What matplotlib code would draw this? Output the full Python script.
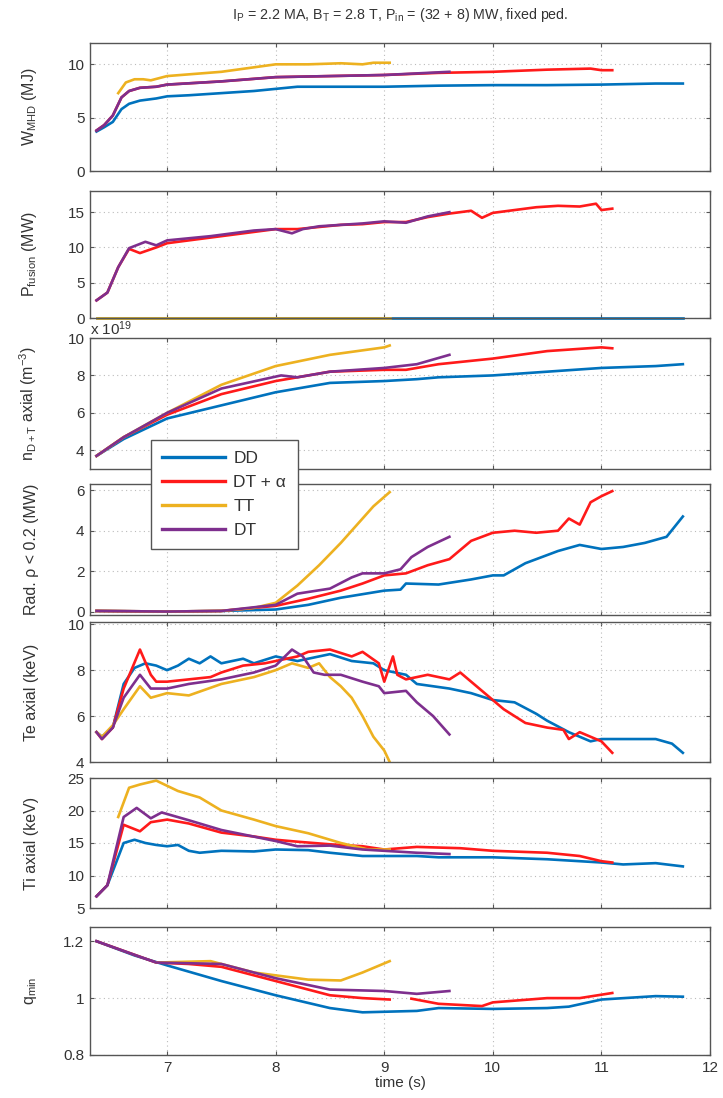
import numpy as np
import matplotlib
matplotlib.use("Agg")
import matplotlib.pyplot as plt

plt.rcParams['font.family'] = ['Liberation Sans', 'DejaVu Sans']
plt.rcParams['mathtext.fontset'] = 'custom'
plt.rcParams['mathtext.rm'] = 'Liberation Sans'
plt.rcParams['mathtext.it'] = 'Liberation Sans'

series_names = ["DD", "DT + α", "TT", "DT"]
colors = ["#0072BD", "#FF1A1A", "#EDB120", "#7E2F8E"]

# ---------------- W_MHD (MJ) ----------------
w_dd_t = [6.35, 6.42, 6.5, 6.58, 6.65, 6.75, 6.9, 7.0, 7.2, 7.5, 7.8, 8.0, 8.2, 8.5, 9.0, 9.5, 10.0, 10.5, 11.0, 11.5, 11.75]
w_dd = [3.7, 4.1, 4.6, 5.8, 6.3, 6.6, 6.8, 7.0, 7.1, 7.3, 7.5, 7.7, 7.9, 7.9, 7.9, 8.0, 8.05, 8.05, 8.1, 8.2, 8.2]
w_dta_t = [6.35, 6.42, 6.5, 6.58, 6.65, 6.75, 6.9, 7.0, 7.5, 8.0, 8.5, 9.0, 9.5, 10.0, 10.5, 10.9, 11.0, 11.1]
w_dta = [3.8, 4.3, 5.2, 6.9, 7.5, 7.8, 7.9, 8.1, 8.4, 8.8, 8.9, 9.0, 9.2, 9.3, 9.5, 9.6, 9.45, 9.45]
w_tt_t = [6.55, 6.62, 6.7, 6.78, 6.85, 7.0, 7.5, 8.0, 8.3, 8.6, 8.8, 8.9, 9.05]
w_tt = [7.3, 8.3, 8.6, 8.6, 8.5, 8.9, 9.3, 10.0, 10.0, 10.1, 10.0, 10.15, 10.15]
w_dt_t = [6.35, 6.42, 6.5, 6.58, 6.65, 6.75, 6.9, 7.0, 7.5, 8.0, 8.5, 9.0, 9.6]
w_dt = [3.8, 4.3, 5.2, 6.9, 7.5, 7.8, 7.9, 8.1, 8.4, 8.8, 8.9, 9.0, 9.3]

# ---------------- P_fusion (MW) ----------------
p_dd_t = [6.35, 11.75]
p_dd = [0.0, 0.0]
p_tt_t = [6.35, 9.05]
p_tt = [0.0, 0.0]
p_dta_t = [6.35, 6.45, 6.55, 6.65, 6.75, 6.9, 7.0, 7.2, 7.4, 7.6, 7.8, 8.0, 8.2, 8.4, 8.6, 8.8, 9.0, 9.2, 9.4, 9.6, 9.8, 9.9, 10.0, 10.2, 10.4, 10.6, 10.8, 10.95, 11.0, 11.1]
p_dta = [2.5, 3.6, 7.2, 9.8, 9.2, 10.0, 10.6, 11.0, 11.4, 11.8, 12.2, 12.6, 12.6, 12.9, 13.2, 13.3, 13.6, 13.6, 14.3, 14.8, 15.2, 14.2, 14.9, 15.3, 15.7, 15.9, 15.8, 16.2, 15.3, 15.5]
p_dt_t = [6.35, 6.45, 6.55, 6.65, 6.8, 6.9, 7.0, 7.2, 7.4, 7.6, 7.8, 8.0, 8.15, 8.25, 8.4, 8.6, 8.8, 9.0, 9.2, 9.4, 9.6]
p_dt = [2.5, 3.6, 7.2, 9.9, 10.8, 10.3, 11.0, 11.3, 11.6, 12.0, 12.4, 12.6, 12.0, 12.6, 13.0, 13.2, 13.4, 13.7, 13.5, 14.4, 15.0]

# ---------------- n_D+T axial (1e19 m^-3) ----------------
n_dd_t = [6.35, 6.6, 7.0, 7.5, 8.0, 8.5, 9.0, 9.3, 9.5, 10.0, 10.5, 11.0, 11.5, 11.75]
n_dd = [3.7, 4.6, 5.7, 6.4, 7.1, 7.6, 7.7, 7.8, 7.9, 8.0, 8.2, 8.4, 8.5, 8.6]
n_dta_t = [6.35, 6.6, 7.0, 7.5, 8.0, 8.5, 9.0, 9.2, 9.5, 10.0, 10.5, 11.0, 11.1]
n_dta = [3.7, 4.7, 5.9, 7.0, 7.7, 8.2, 8.3, 8.3, 8.6, 8.9, 9.3, 9.5, 9.45]
n_tt_t = [6.35, 6.6, 7.0, 7.5, 8.0, 8.5, 9.0, 9.05]
n_tt = [3.7, 4.7, 6.0, 7.5, 8.5, 9.1, 9.5, 9.6]
n_dt_t = [6.35, 6.6, 7.0, 7.5, 8.05, 8.2, 8.5, 9.0, 9.3, 9.6]
n_dt = [3.7, 4.7, 6.0, 7.3, 8.0, 7.9, 8.2, 8.4, 8.6, 9.1]

# ---------------- Rad. rho < 0.2 (MW) ----------------
r_dd_t = [6.35, 7.0, 7.5, 8.0, 8.3, 8.6, 9.0, 9.15, 9.2, 9.5, 9.8, 10.0, 10.1, 10.3, 10.6, 10.8, 11.0, 11.2, 11.4, 11.6, 11.75]
r_dd = [0.05, 0.02, 0.05, 0.12, 0.35, 0.7, 1.05, 1.1, 1.4, 1.35, 1.6, 1.8, 1.8, 2.4, 3.0, 3.3, 3.1, 3.2, 3.4, 3.7, 4.7]
r_dta_t = [6.35, 7.0, 7.5, 8.0, 8.3, 8.6, 8.8, 9.0, 9.2, 9.4, 9.6, 9.8, 10.0, 10.2, 10.4, 10.6, 10.7, 10.8, 10.9, 11.0, 11.1]
r_dta = [0.05, 0.02, 0.05, 0.3, 0.65, 1.05, 1.4, 1.8, 1.9, 2.3, 2.6, 3.5, 3.9, 4.0, 3.9, 4.0, 4.6, 4.3, 5.4, 5.7, 5.95]
r_tt_t = [6.35, 7.0, 7.5, 7.8, 8.0, 8.2, 8.4, 8.6, 8.75, 8.9, 9.05]
r_tt = [0.05, 0.02, 0.05, 0.2, 0.45, 1.3, 2.3, 3.4, 4.3, 5.2, 5.9]
r_dt_t = [6.35, 7.0, 7.5, 8.0, 8.2, 8.5, 8.7, 8.8, 9.0, 9.15, 9.25, 9.4, 9.6]
r_dt = [0.05, 0.02, 0.05, 0.35, 0.9, 1.15, 1.7, 1.9, 1.9, 2.1, 2.7, 3.2, 3.7]

# ---------------- Te axial (keV) ----------------
te_dd_t = [6.35, 6.4, 6.5, 6.6, 6.7, 6.8, 6.9, 7.0, 7.1, 7.2, 7.3, 7.4, 7.5, 7.7, 7.8, 8.0, 8.2, 8.4, 8.5, 8.7, 8.9, 9.0, 9.2, 9.3, 9.6, 9.8, 10.0, 10.2, 10.4, 10.5, 10.7, 10.9, 11.0, 11.2, 11.5, 11.65, 11.75]
te_dd = [5.3, 5.1, 5.5, 7.4, 8.1, 8.3, 8.2, 8.0, 8.2, 8.5, 8.3, 8.6, 8.3, 8.5, 8.3, 8.6, 8.4, 8.6, 8.7, 8.4, 8.3, 8.0, 7.8, 7.4, 7.2, 7.0, 6.7, 6.6, 6.1, 5.8, 5.3, 4.9, 5.0, 5.0, 5.0, 4.8, 4.4]
te_dta_t = [6.35, 6.4, 6.5, 6.6, 6.75, 6.85, 6.9, 7.0, 7.2, 7.4, 7.5, 7.7, 7.9, 8.0, 8.2, 8.3, 8.5, 8.7, 8.8, 8.95, 9.0, 9.08, 9.12, 9.2, 9.4, 9.6, 9.7, 9.9, 10.1, 10.3, 10.5, 10.65, 10.7, 10.8, 11.0, 11.1]
te_dta = [5.3, 5.0, 5.5, 7.2, 8.9, 7.8, 7.5, 7.5, 7.6, 7.7, 7.9, 8.2, 8.3, 8.4, 8.6, 8.8, 8.9, 8.6, 8.8, 8.3, 7.5, 8.6, 7.8, 7.6, 7.8, 7.6, 7.9, 7.1, 6.3, 5.7, 5.5, 5.4, 5.0, 5.3, 4.9, 4.4]
te_tt_t = [6.35, 6.4, 6.5, 6.6, 6.75, 6.85, 7.0, 7.2, 7.5, 7.8, 8.0, 8.15, 8.3, 8.4, 8.5, 8.6, 8.7, 8.8, 8.9, 9.0, 9.05]
te_tt = [5.3, 5.1, 5.6, 6.3, 7.3, 6.8, 7.0, 6.9, 7.4, 7.7, 8.0, 8.3, 8.1, 8.3, 7.7, 7.3, 6.8, 6.0, 5.1, 4.5, 4.0]
te_dt_t = [6.35, 6.4, 6.5, 6.6, 6.75, 6.85, 7.0, 7.2, 7.5, 7.8, 8.0, 8.15, 8.25, 8.35, 8.45, 8.6, 8.8, 8.95, 9.0, 9.2, 9.3, 9.45, 9.6]
te_dt = [5.3, 5.0, 5.5, 6.8, 7.8, 7.2, 7.2, 7.4, 7.6, 7.9, 8.2, 8.9, 8.6, 7.9, 7.8, 7.8, 7.5, 7.3, 7.0, 7.1, 6.6, 6.0, 5.2]

# ---------------- Ti axial (keV) ----------------
ti_dd_t = [6.35, 6.45, 6.6, 6.7, 6.8, 6.9, 7.0, 7.1, 7.2, 7.3, 7.5, 7.8, 8.0, 8.3, 8.5, 8.8, 9.0, 9.3, 9.5, 10.0, 10.5, 11.0, 11.2, 11.5, 11.75]
ti_dd = [6.8, 8.5, 15.0, 15.5, 15.0, 14.7, 14.5, 14.7, 13.8, 13.5, 13.8, 13.7, 14.0, 13.9, 13.5, 13.0, 13.0, 13.0, 12.8, 12.8, 12.5, 12.0, 11.7, 11.9, 11.4]
ti_dta_t = [6.35, 6.45, 6.6, 6.75, 6.85, 7.0, 7.2, 7.5, 7.8, 8.0, 8.2, 8.5, 8.8, 9.0, 9.3, 9.5, 9.7, 10.0, 10.5, 10.8, 11.0, 11.1]
ti_dta = [6.8, 8.5, 17.8, 16.8, 18.2, 18.6, 18.0, 16.6, 16.0, 15.5, 15.2, 14.8, 14.5, 14.0, 14.4, 14.3, 14.2, 13.8, 13.5, 13.0, 12.2, 12.0]
ti_tt_t = [6.55, 6.65, 6.75, 6.9, 7.0, 7.1, 7.3, 7.5, 7.8, 8.0, 8.3, 8.6, 8.85, 9.05]
ti_tt = [19.0, 23.5, 24.0, 24.6, 23.8, 23.0, 22.0, 20.0, 18.6, 17.6, 16.5, 15.0, 14.0, 14.0]
ti_dt_t = [6.35, 6.45, 6.6, 6.72, 6.85, 6.95, 7.2, 7.5, 8.0, 8.2, 8.5, 8.8, 9.0, 9.3, 9.6]
ti_dt = [6.8, 8.5, 19.0, 20.4, 18.8, 19.7, 18.5, 17.0, 15.3, 14.5, 14.6, 14.0, 13.8, 13.5, 13.3]

# ---------------- q_min ----------------
q_dd_t = [6.35, 6.7, 7.0, 7.5, 8.0, 8.5, 8.8, 9.0, 9.3, 9.5, 10.0, 10.5, 10.7, 11.0, 11.5, 11.75]
q_dd = [1.2, 1.15, 1.115, 1.06, 1.01, 0.965, 0.95, 0.952, 0.955, 0.965, 0.962, 0.965, 0.97, 0.995, 1.007, 1.005]
q_dta_t = [6.35, 6.9, 7.2, 7.5, 8.0, 8.5, 8.8, 9.05, 9.15, 9.25, 9.5, 9.9, 10.0, 10.5, 10.8, 11.1]
q_dta = [1.2, 1.125, 1.12, 1.11, 1.06, 1.01, 1.0, 0.995, np.nan, 0.998, 0.98, 0.972, 0.985, 1.0, 1.0, 1.018]
q_tt_t = [6.9, 7.4, 7.8, 8.0, 8.3, 8.6, 8.8, 9.05]
q_tt = [1.125, 1.13, 1.09, 1.08, 1.065, 1.062, 1.09, 1.13]
q_dt_t = [6.35, 6.9, 7.5, 8.0, 8.5, 9.0, 9.3, 9.6]
q_dt = [1.2, 1.125, 1.12, 1.07, 1.03, 1.025, 1.015, 1.025]

panels = [
    ([(w_dd_t, w_dd), (w_dta_t, w_dta), (w_tt_t, w_tt), (w_dt_t, w_dt)], (0, 12), [0, 5, 10], r"W$_{\mathregular{MHD}}$ (MJ)"),
    ([(p_dd_t, p_dd), (p_dta_t, p_dta), (p_tt_t, p_tt), (p_dt_t, p_dt)], (0, 18), [0, 5, 10, 15], r"P$_{\mathregular{fusion}}$ (MW)"),
    ([(n_dd_t, n_dd), (n_dta_t, n_dta), (n_tt_t, n_tt), (n_dt_t, n_dt)], (3, 10), [4, 6, 8, 10], r"n$_{\mathregular{D+T}}$ axial (m$^{\mathregular{-3}}$)"),
    ([(r_dd_t, r_dd), (r_dta_t, r_dta), (r_tt_t, r_tt), (r_dt_t, r_dt)], (-0.15, 6.3), [0, 2, 4, 6], "Rad. ρ < 0.2 (MW)"),
    ([(te_dd_t, te_dd), (te_dta_t, te_dta), (te_tt_t, te_tt), (te_dt_t, te_dt)], (4, 10.1), [4, 6, 8, 10], "Te axial (keV)"),
    ([(ti_dd_t, ti_dd), (ti_dta_t, ti_dta), (ti_tt_t, ti_tt), (ti_dt_t, ti_dt)], (5, 25), [5, 10, 15, 20, 25], "Ti axial (keV)"),
    ([(q_dd_t, q_dd), (q_dta_t, q_dta), (q_tt_t, q_tt), (q_dt_t, q_dt)], (0.8, 1.25), [0.8, 1.0, 1.2], r"q$_{\mathregular{min}}$"),
]
q_ticklabels = ["0.8", "1", "1.2"]

W, H = 723, 1098
fig = plt.figure(figsize=(W / 100, H / 100), dpi=100)
bounds = [(43, 171), (191, 318), (338, 469), (484, 615), (622, 762), (778, 908), (927, 1055)]
left, right = 90, 710
text_col = "#333333"
xticks = [7, 8, 9, 10, 11, 12]

axes = []
for i, ((series, ylim, yticks, ylabel), (top, bot)) in enumerate(zip(panels, bounds)):
    ax = fig.add_axes([left / W, 1 - bot / H, (right - left) / W, (bot - top) / H])
    handles = []
    for (t, v), c, name in zip(series, colors, series_names):
        h, = ax.plot(t, v, color=c, lw=1.9, label=name, clip_on=(i != 1))
        handles.append(h)
    ax.set_xlim(6.29, 12)
    ax.set_ylim(*ylim)
    ax.set_yticks(yticks)
    if i == 6:
        ax.set_yticklabels(q_ticklabels)
    ax.set_xticks(xticks)
    if i < 6:
        ax.set_xticklabels([])
    ax.grid(True, linestyle=(0, (1, 3)), color="#bbbbbb", lw=0.8)
    ax.tick_params(direction="in", top=True, right=True, length=3, labelsize=11,
                   colors="#555555", labelcolor=text_col, pad=4)
    for s in ax.spines.values():
        s.set_color("#555555")
        s.set_linewidth(1.0)
    ax.set_ylabel(ylabel, fontsize=11.5, color=text_col)
    ax.yaxis.set_label_coords(-0.082, 0.5)
    axes.append(ax)
    if i == 0:
        legend_handles = handles

axes[-1].set_xlabel("time (s)", fontsize=11, color=text_col, labelpad=1)
axes[2].text(0.0, 1.0, r"x 10$^{\mathregular{19}}$", transform=axes[2].transAxes,
             ha="left", va="bottom", fontsize=11, color=text_col)

fig.text(400 / W, 1 - 15 / H,
         r"I$_{\mathregular{P}}$ = 2.2 MA, B$_{\mathregular{T}}$ = 2.8 T, P$_{\mathregular{in}}$ = (32 + 8) MW, fixed ped.",
         ha="center", va="center", fontsize=10.3, color=text_col)

leg = fig.legend(legend_handles, series_names, loc="upper left",
                 bbox_to_anchor=(151 / W, 1 - 440 / H), borderaxespad=0.0, fontsize=12.5,
                 handlelength=3.6, handletextpad=0.5, labelspacing=0.5,
                 borderpad=0.65, fancybox=False, framealpha=1.0, edgecolor="#555555")
leg.get_frame().set_linewidth(1.0)
for txt in leg.get_texts():
    txt.set_color(text_col)
for lh in leg.get_lines():
    lh.set_linewidth(2.4)

fig.savefig("out.png", dpi=100)
